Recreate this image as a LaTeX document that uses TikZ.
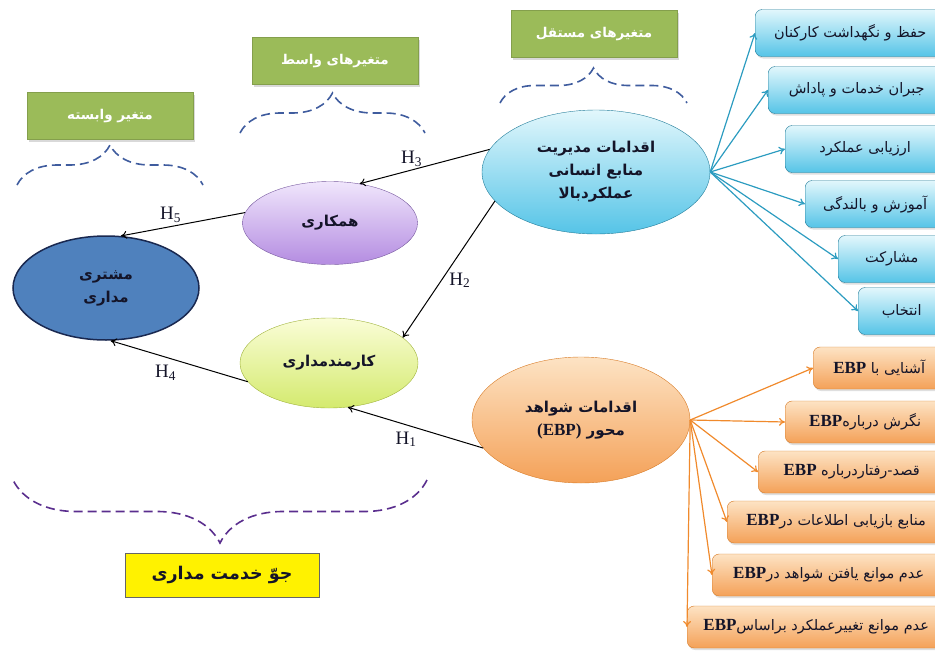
\documentclass[tikz,border=0pt]{standalone}
\usepackage{fontspec}
\setmainfont{Liberation Serif}
\newfontfamily\fa[Script=Arabic]{DejaVu Sans}
\TeXXeTstate=1
\usetikzlibrary{shapes.geometric,arrows.meta,decorations.pathreplacing,shadows}

\definecolor{grn}{HTML}{9BBB59}
\definecolor{bluebr}{HTML}{3F5C9E}
\definecolor{purbr}{HTML}{5A2E8E}
\definecolor{cyanln}{HTML}{2C9CC0}
\definecolor{orgln}{HTML}{F08A2C}
\definecolor{txt}{HTML}{141428}
\definecolor{cyantop}{HTML}{E2F7FC}
\definecolor{cyanbot}{HTML}{55C4E7}
\definecolor{orgtop}{HTML}{FDE3C4}
\definecolor{orgbot}{HTML}{F4A158}

\newcommand{\fatext}[1]{\beginR #1\endR}
\newcommand{\ebp}{\beginL{\rmfamily\bfseries\fontsize{17}{17}\selectfont EBP}\endL}
\newcommand{\hlab}[1]{H\textsubscript{#1}}

\begin{document}
\begin{tikzpicture}[x=1pt,y=-1pt,>={To[length=6pt,width=8pt]},
    main node/.style={ellipse,draw,inner sep=0pt,align=center,text=txt,
        font=\fa\bfseries\fontsize{15}{23}\selectfont},
    var box/.style={fill=grn,draw=grn!85!black,text=white,
        font=\fa\bfseries\fontsize{13.5}{15}\selectfont,
        minimum width=166pt,minimum height=47pt,
        drop shadow={opacity=.3,shadow xshift=2pt,shadow yshift=-2pt}},
    hr box/.style={rounded corners=7pt,draw=cyanln!80!black,top color=cyantop,
        bottom color=cyanbot,anchor=west,minimum height=47pt,text=txt,
        font=\fa\fontsize{14.5}{16}\selectfont,
        drop shadow={opacity=.25,shadow xshift=1pt,shadow yshift=-2pt}},
    ebp box/.style={rounded corners=7pt,draw=orgln!90!black,top color=orgtop,
        bottom color=orgbot,anchor=west,minimum height=42pt,text=txt,
        font=\fa\fontsize{14.5}{16}\selectfont,
        drop shadow={opacity=.25,shadow xshift=1pt,shadow yshift=-2pt}},
    brace line/.style={decorate,dashed,dash pattern=on 9pt off 5pt,line width=1.6pt},
    h label/.style={font=\fontsize{19}{19}\selectfont,text=txt}]

  \useasboundingbox (0,0) rectangle (935,651);

  % variable headers
  \node[var box] (g1) at (110,116) {\fatext{متغیر وابسته}};
  \node[var box] (g2) at (335,61) {\fatext{متغیرهای واسط}};
  \node[var box] (g3) at (594,34) {\fatext{متغیرهای مستقل}};

  \draw[brace line,bluebr,decoration={brace,amplitude=40pt}] (17,185) -- (203,185);
  \draw[brace line,bluebr,decoration={brace,amplitude=40pt}] (240,133) -- (425,133);
  \draw[brace line,bluebr,decoration={brace,amplitude=35pt}] (500,103) -- (687,103);
  \draw[brace line,purbr,decoration={brace,amplitude=63pt}] (427,480) -- (13,480);

  \node[draw=black!60,fill=yellow,minimum width=194pt,minimum height=44pt,text=txt,
        font=\fa\bfseries\fontsize{17.5}{19}\selectfont] (y1) at (222,575) {\fatext{جوّ خدمت مداری}};

  % ellipses
  \node[main node,fill={rgb,255:red,79;green,129;blue,189},
        draw={rgb,255:red,25;green,40;blue,80},line width=1.5pt,
        minimum width=186pt,minimum height=104pt] (1) at (106,288) {\fatext{مشتری}\\\fatext{مداری}};
  \node[main node,top color={rgb,255:red,240;green,230;blue,252},
        bottom color={rgb,255:red,180;green,140;blue,225},draw={rgb,255:red,120;green,90;blue,160},
        minimum width=175pt,minimum height=83pt] (2) at (330,223) {\fatext{همکاری}};
  \node[main node,top color={rgb,255:red,250;green,253;blue,215},
        bottom color={rgb,255:red,212;green,234;blue,110},draw={rgb,255:red,160;green,180;blue,60},
        minimum width=178pt,minimum height=90pt] (3) at (329,363) {\fatext{کارمندمداری}};
  \node[main node,top color=cyantop,bottom color=cyanbot,draw=cyanln!80!black,
        minimum width=228pt,minimum height=124pt] (4) at (596,172)
        {\fatext{اقدامات مدیریت}\\\fatext{منابع انسانی}\\\fatext{عملکردبالا}};
  \node[main node,top color=orgtop,bottom color=orgbot,draw=orgln!90!black,
        minimum width=218pt,minimum height=126pt] (5) at (581,420)
        {\fatext{اقدامات شواهد}\\\fatext{محور \beginL{\rmfamily\bfseries\fontsize{17}{17}\selectfont (EBP)}\endL}};

  % hr practices
  \node[hr box,minimum width=190pt] (c1) at (755,33) {\fatext{حفظ و نگهداشت کارکنان}};
  \node[hr box,minimum width=177pt] (c2) at (768,90) {\fatext{جبران خدمات و پاداش}};
  \node[hr box,minimum width=160pt] (c3) at (785,149) {\fatext{ارزیابی عملکرد}};
  \node[hr box,minimum width=140pt] (c4) at (805,204) {\fatext{آموزش و بالندگی}};
  \node[hr box,minimum width=107pt] (c5) at (838,259) {\fatext{مشارکت}};
  \node[hr box,minimum width=87pt] (c6) at (858,311) {\fatext{انتخاب}};

  % ebp items
  \node[ebp box,minimum width=132pt] (o1) at (813,368) {\fatext{آشنایی با \ebp}};
  \node[ebp box,minimum width=160pt] (o2) at (785,422) {\fatext{نگرش درباره\ebp}};
  \node[ebp box,minimum width=187pt] (o3) at (758,472) {\fatext{قصد-رفتاردرباره \ebp}};
  \node[ebp box,minimum width=218pt] (o4) at (727,522) {\fatext{منابع بازیابی اطلاعات در\ebp}};
  \node[ebp box,minimum width=233pt] (o5) at (712,575) {\fatext{عدم موانع یافتن شواهد در\ebp}};
  \node[ebp box,minimum width=258pt] (o6) at (687,627) {\fatext{عدم موانع تغییرعملکرد براساس\ebp}};

  \path[->,cyanln,line width=1.2pt]
    (4.east) edge (c1.west)
    (4.east) edge (c2.west)
    (4.east) edge (c3.west)
    (4.east) edge (c4.west)
    (4.east) edge (c5.west)
    (4.east) edge (c6.west);

  \path[->,orgln,line width=1.2pt]
    (5.east) edge (o1.west)
    (5.east) edge (o2.west)
    (5.east) edge (o3.west)
    (5.east) edge (o4.west)
    (5.east) edge (o5.west)
    (5.east) edge (o6.west);

  \path[->,line width=1pt]
    (4.168) edge node[h label,pos=.6,above] {\hlab{3}} (2.53)
    (2.173) edge node[h label,pos=.6,above] {\hlab{5}} (1.74)
    (4.196) edge node[h label,pos=.58,right=4pt] {\hlab{2}} (3.19)
    (3.193) edge node[h label,pos=.6,below=4pt] {\hlab{4}} (1.275)
    (5.196) edge node[h label,pos=.57,below=3pt] {\hlab{1}} (3.293);
\end{tikzpicture}
\end{document}
